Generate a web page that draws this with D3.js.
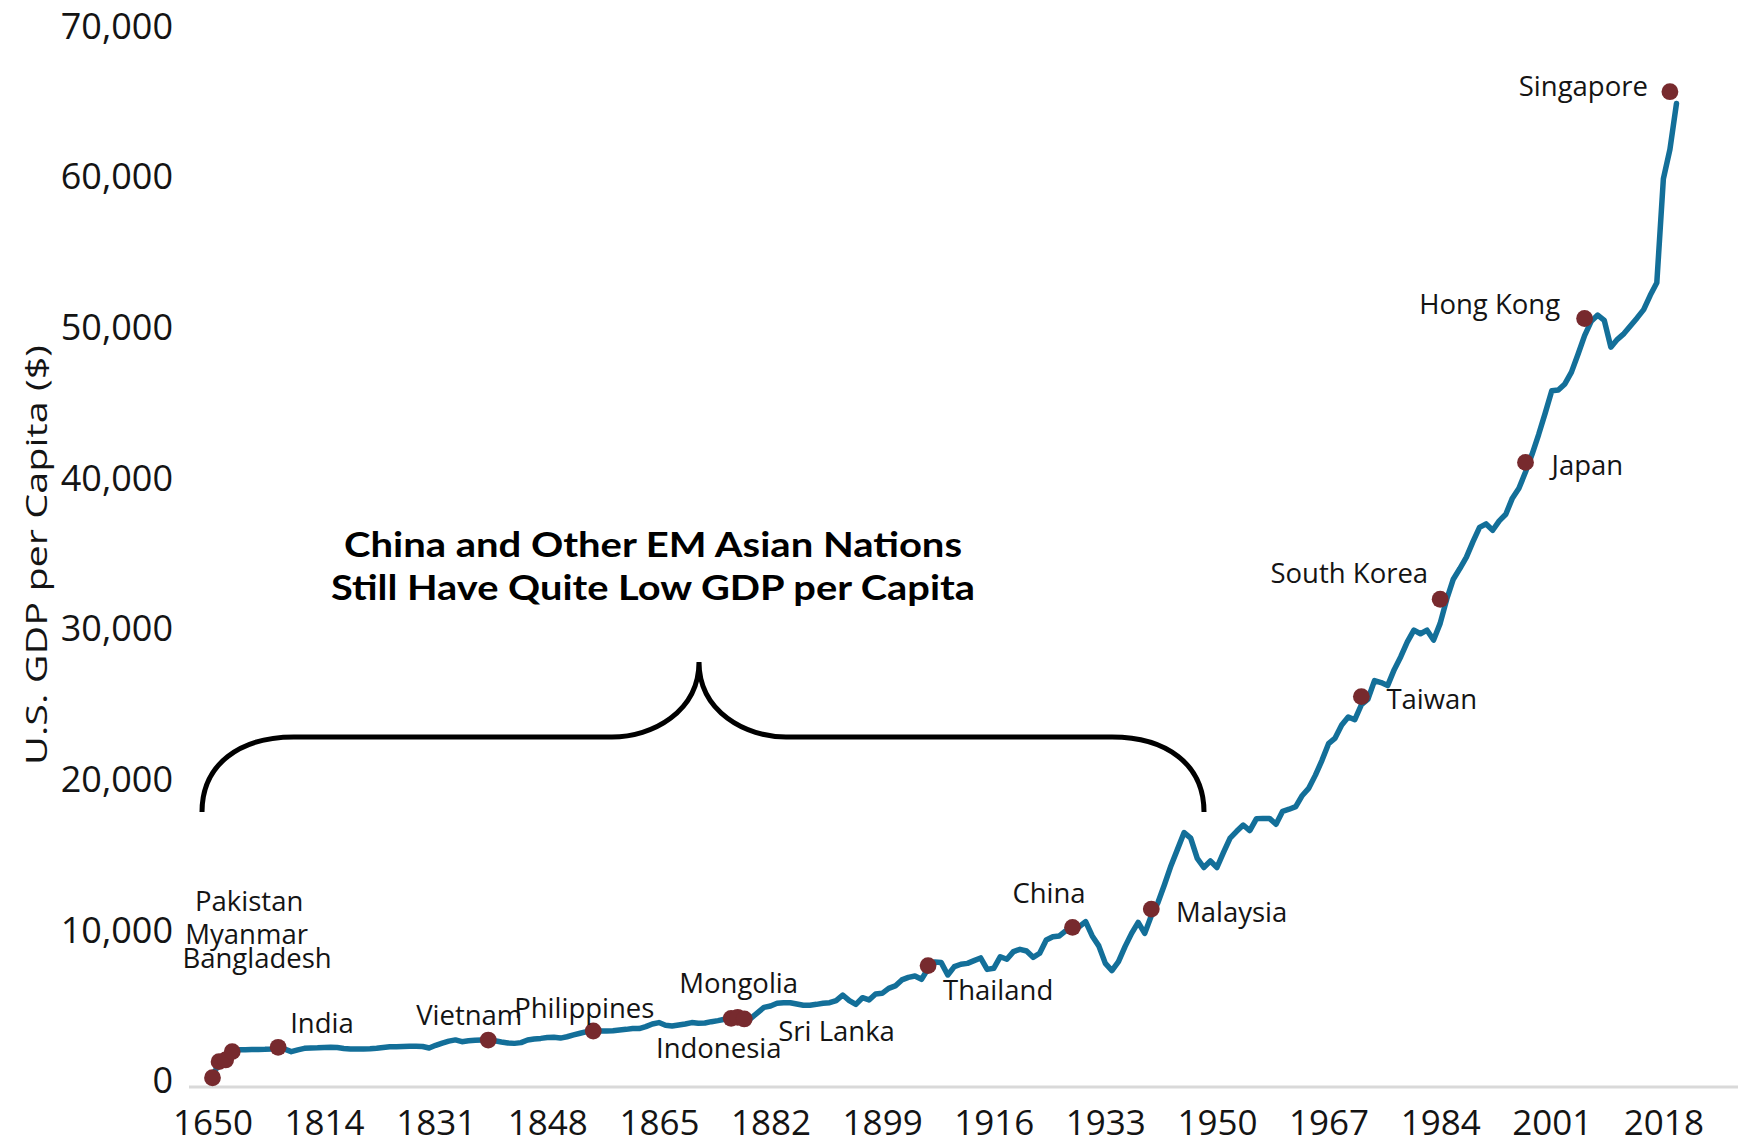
<!DOCTYPE html>
<html>
<head>
<meta charset="utf-8">
<script src="https://cdn.jsdelivr.net/npm/d3@7"></script>
<style>
  html, body { margin: 0; padding: 0; background: #ffffff; }
  svg { display: block; }
</style>
</head>
<body>
<svg id="chart" width="1743" height="1144"></svg>
<script>
// Category axis: three early benchmark years, then annual data from 1800.
const years = [
  1650, 1700, 1750,
  1800, 1801, 1802, 1803, 1804, 1805, 1806, 1807, 1808, 1809,
  1810, 1811, 1812, 1813, 1814, 1815, 1816, 1817, 1818, 1819,
  1820, 1821, 1822, 1823, 1824, 1825, 1826, 1827, 1828, 1829,
  1830, 1831, 1832, 1833, 1834, 1835, 1836, 1837, 1838, 1839,
  1840, 1841, 1842, 1843, 1844, 1845, 1846, 1847, 1848, 1849,
  1850, 1851, 1852, 1853, 1854, 1855, 1856, 1857, 1858, 1859,
  1860, 1861, 1862, 1863, 1864, 1865, 1866, 1867, 1868, 1869,
  1870, 1871, 1872, 1873, 1874, 1875, 1876, 1877, 1878, 1879,
  1880, 1881, 1882, 1883, 1884, 1885, 1886, 1887, 1888, 1889,
  1890, 1891, 1892, 1893, 1894, 1895, 1896, 1897, 1898, 1899,
  1900, 1901, 1902, 1903, 1904, 1905, 1906, 1907, 1908, 1909,
  1910, 1911, 1912, 1913, 1914, 1915, 1916, 1917, 1918, 1919,
  1920, 1921, 1922, 1923, 1924, 1925, 1926, 1927, 1928, 1929,
  1930, 1931, 1932, 1933, 1934, 1935, 1936, 1937, 1938, 1939,
  1940, 1941, 1942, 1943, 1944, 1945, 1946, 1947, 1948, 1949,
  1950, 1951, 1952, 1953, 1954, 1955, 1956, 1957, 1958, 1959,
  1960, 1961, 1962, 1963, 1964, 1965, 1966, 1967, 1968, 1969,
  1970, 1971, 1972, 1973, 1974, 1975, 1976, 1977, 1978, 1979,
  1980, 1981, 1982, 1983, 1984, 1985, 1986, 1987, 1988, 1989,
  1990, 1991, 1992, 1993, 1994, 1995, 1996, 1997, 1998, 1999,
  2000, 2001, 2002, 2003, 2004, 2005, 2006, 2007, 2008, 2009,
  2010, 2011, 2012, 2013, 2014, 2015, 2016, 2017, 2018, 2019,
  2020
];

// U.S. GDP per capita ($), one value per category above.
const usGdpPerCapita = [
  150, 1215, 1330,
  1880, 2000, 2010, 2020, 2030, 2040, 2060, 2170, 2050, 1880,
  2000, 2100, 2130, 2140, 2160, 2170, 2150, 2090, 2060, 2060,
  2060, 2070, 2110, 2160, 2200, 2210, 2230, 2240, 2240, 2220,
  2120, 2300, 2450, 2580, 2660, 2540, 2600, 2640, 2650, 2650,
  2600, 2520, 2460, 2430, 2480, 2650, 2720, 2760, 2820, 2830,
  2780, 2870, 2990, 3100, 3210, 3250, 3250, 3250, 3270, 3320,
  3360, 3410, 3410, 3540, 3720, 3810, 3630, 3580, 3650, 3720,
  3810, 3760, 3780, 3870, 3940, 4030, 4080, 4100, 4050, 4090,
  4460, 4820, 4910, 5090, 5130, 5130, 5040, 4960, 4960, 5020,
  5090, 5130, 5270, 5640, 5270, 5020, 5460, 5310, 5710, 5750,
  6080, 6240, 6640, 6810, 6900, 6680, 7400, 7830, 7790, 6970,
  7520, 7680, 7740, 7920, 8100, 7340, 7410, 8180, 8010, 8520,
  8670, 8560, 8140, 8410, 9290, 9510, 9560, 9910, 10130, 10170,
  10510, 9560, 8900, 7740, 7260, 7850, 8850, 9730, 10460, 9730,
  10900, 11760, 12960, 14220, 15320, 16420, 16050, 14700, 14100, 14530,
  14100, 15100, 16050, 16500, 16920, 16550, 17330, 17360, 17360, 16970,
  17830, 17970, 18140, 18880, 19370, 20230, 21210, 22320, 22690, 23550,
  24090, 23910, 24900, 25270, 26500, 26370, 26170, 27230, 28090, 29070,
  29850, 29610, 29850, 29190, 30300, 31900, 33230, 33940, 34700, 35720,
  36670, 36900, 36480, 37100, 37540, 38610, 39270, 40340, 41520, 42830,
  44250, 45740, 45790, 46190, 46970, 48160, 49390, 50340, 50760, 50410,
  48630, 49150, 49530, 50050, 50570, 51120, 52070, 52900, 59800, 61750,
  64800
];

// Asian economies today, placed at the year the U.S. reached the same level.
const countries = ["", "Bangladesh", "Myanmar", "Pakistan", "India", "Vietnam",
  "Philippines", "Indonesia", "Mongolia", "Sri Lanka", "Thailand", "China",
  "Malaysia", "Taiwan", "South Korea", "Japan", "Hong Kong", "Singapore"];
const countryYears = [1650, 1700, 1750, 1800, 1807, 1839,
  1855, 1876, 1877, 1878, 1906, 1928,
  1940, 1972, 1984, 1997, 2006, 2019];
const countryGdp = [150, 1215, 1330, 1880, 2170, 2650,
  3250, 4090, 4160, 4050, 7590, 10130,
  11340, 25440, 31900, 40980, 50530, 65580];

const xTickYears = [1650, 1814, 1831, 1848, 1865, 1882, 1899, 1916, 1933,
  1950, 1967, 1984, 2001, 2018];
const yTickValues = [0, 10000, 20000, 30000, 40000, 50000, 60000, 70000];

const annotationLines = ["China and Other EM Asian Nations",
  "Still Have Quite Low GDP per Capita"];
const yAxisTitle = "U.S. GDP per Capita ($)";

// ---- layout ----
const W = 1743, H = 1144;
const plotLeft = 189, plotRight = 1738;
const lineColor = "#136f99";
const dotColor = "#772a2e";
const textColor = "#141414";
const labelFont = "'Open Sans', 'DejaVu Sans', sans-serif";
const labelSize = 27.5;

const svg = d3.select("#chart");
svg.append("rect").attr("width", W).attr("height", H).attr("fill", "#ffffff");

const x = d3.scalePoint().domain(years).range([212.5, 1676.5]).padding(0);
// value axis starts slightly below zero so the baseline sits under the 0 tick
const y = d3.scaleLinear().domain([-465, 70000]).range([1087, 25.1]);

// baseline of the category axis
svg.append("line")
  .attr("x1", plotLeft).attr("x2", plotRight)
  .attr("y1", y(-465)).attr("y2", y(-465))
  .attr("stroke", "#d9d9d9").attr("stroke-width", 3);

// category axis labels
const xAxis = svg.append("g")
  .attr("transform", `translate(0,${y(-465)})`)
  .call(d3.axisBottom(x).tickValues(xTickYears).tickSize(0).tickFormat(d3.format("d")));
xAxis.select(".domain").remove();
xAxis.selectAll("text")
  .attr("y", 47.5).attr("dy", null)
  .attr("fill", textColor)
  .style("font-family", labelFont)
  .style("font-size", "35px");

// value axis labels
const yAxis = svg.append("g")
  .attr("transform", "translate(183,0)")
  .call(d3.axisLeft(y).tickValues(yTickValues).tickSize(0).tickPadding(10)
    .tickFormat(d3.format(",")));
yAxis.select(".domain").remove();
yAxis.selectAll("text")
  .attr("dy", "0.36em")
  .attr("fill", textColor)
  .style("font-family", labelFont)
  .style("font-size", "36px");

// value axis title
svg.append("text")
  .attr("transform", "translate(47,555) rotate(-90)")
  .attr("text-anchor", "middle")
  .attr("textLength", 420)
  .attr("lengthAdjust", "spacingAndGlyphs")
  .attr("fill", textColor)
  .style("font-family", labelFont)
  .style("font-size", "30px")
  .text(yAxisTitle);

// GDP per capita line
const line = d3.line()
  .x((d, i) => x(years[i]))
  .y(d => y(d));
svg.append("path")
  .datum(usGdpPerCapita)
  .attr("d", line)
  .attr("fill", "none")
  .attr("stroke", lineColor)
  .attr("stroke-width", 5.5)
  .attr("stroke-linejoin", "round")
  .attr("stroke-linecap", "round");

// country markers
const dots = countries.map((name, i) => ({ name, year: countryYears[i], gdp: countryGdp[i] }));
svg.append("g").selectAll("circle")
  .data(dots)
  .join("circle")
  .attr("cx", d => x(d.year))
  .attr("cy", d => y(d.gdp))
  .attr("r", 8.4)
  .attr("fill", dotColor);

// label placement around each marker (offsets of the text's cap centre)
const labelPlacement = {
  "Singapore":   { anchor: "end",    dx: -22,   dy: -6 },
  "Hong Kong":   { anchor: "end",    dx: -24.5, dy: -14.5 },
  "Japan":       { anchor: "start",  dx: 26,    dy: 2.6 },
  "South Korea": { anchor: "end",    dx: -12,   dy: -25.8 },
  "Taiwan":      { anchor: "start",  dx: 25,    dy: 2.7 },
  "Malaysia":    { anchor: "start",  dx: 24.7,  dy: 2.6 },
  "China":       { anchor: "middle", dx: -23.5, dy: -34 },
  "Thailand":    { anchor: "start",  dx: 15,    dy: 24.4 },
  "Mongolia":    { anchor: "middle", dx: 1,     dy: -34 },
  "Indonesia":   { anchor: "middle", dx: -12.4, dy: 30 },
  "Sri Lanka":   { anchor: "start",  dx: 34,    dy: 12.7 },
  "Philippines": { anchor: "middle", dx: -9,    dy: -22.7 },
  "Vietnam":     { anchor: "middle", dx: -19,   dy: -25 },
  "India":       { anchor: "start",  dx: 12,    dy: -24 },
  "Pakistan":    { anchor: "middle", dx: 17,    dy: -150 },
  "Myanmar":     { anchor: "middle", dx: 21,    dy: -126 },
  "Bangladesh":  { anchor: "middle", dx: 38,    dy: -104 }
};
// the three earliest economies share one stacked label block
const stacked = ["Pakistan", "Myanmar", "Bangladesh"];

const labelX = d => x(d.year) + labelPlacement[d.name].dx;
const labelY = d => y(d.gdp) + labelPlacement[d.name].dy + 0.357 * labelSize;

svg.append("g").selectAll("text")
  .data(dots.filter(d => d.name !== "" && !stacked.includes(d.name)))
  .join("text")
  .attr("x", labelX)
  .attr("y", labelY)
  .attr("text-anchor", d => labelPlacement[d.name].anchor)
  .attr("fill", textColor)
  .style("font-family", labelFont)
  .style("font-size", labelSize + "px")
  .text(d => d.name);

const stackText = svg.append("text")
  .attr("text-anchor", "middle")
  .attr("fill", textColor)
  .style("font-family", labelFont)
  .style("font-size", labelSize + "px");
stackText.selectAll("tspan")
  .data(stacked.map(n => dots.find(d => d.name === n)))
  .join("tspan")
  .attr("x", labelX)
  .attr("y", labelY)
  .text(d => d.name);

// curly brace spanning the low-income group
svg.append("path")
  .attr("d", "M202,812 C202,764 240,737 294,737 L612,737 C652,737 699,712 699,662 " +
             "C699,712 746,737 786,737 L1112,737 C1166,737 1204,764 1204,812")
  .attr("fill", "none")
  .attr("stroke", "#000000")
  .attr("stroke-width", 5);

// annotation
const annWidths = [618, 644];
const annBaselines = [556.7, 600];
svg.append("g").selectAll("text")
  .data(annotationLines)
  .join("text")
  .attr("x", 653)
  .attr("y", (d, i) => annBaselines[i])
  .attr("text-anchor", "middle")
  .attr("textLength", (d, i) => annWidths[i])
  .attr("lengthAdjust", "spacingAndGlyphs")
  .attr("fill", "#000000")
  .style("font-family", "Lato, 'Open Sans', sans-serif")
  .style("font-weight", "700")
  .style("font-size", "35px")
  .text(d => d);
</script>
</body>
</html>
